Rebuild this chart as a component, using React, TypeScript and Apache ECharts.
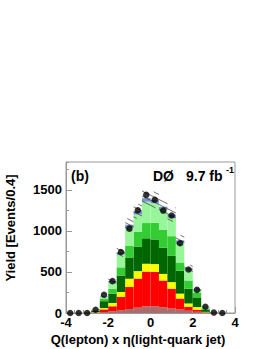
import React, { useEffect, useRef } from "react";
import * as echarts from "echarts";

const binCenters = [-3.8, -3.4, -3.0, -2.6, -2.2, -1.8, -1.4, -1.0, -0.6, -0.2, 0.2, 0.6, 1.0, 1.4, 1.8, 2.2, 2.6, 3.0, 3.4, 3.8];
const BIN_HALF = 0.2;

// per-component yields (stacked bottom to top)
const brownYield = [0, 0, 1, 4, 12, 22, 35, 50, 65, 80, 82, 68, 55, 42, 28, 15, 6, 2, 0, 0];
const redYield = [0, 0, 1, 4, 32, 60, 161, 266, 355, 425, 418, 328, 241, 134, 48, 23, 4, 1, 0, 0];
const yellowYield = [0, 0, 1, 4, 16, 40, 60, 100, 90, 95, 96, 80, 80, 60, 40, 34, 4, 1, 0, 0];
const darkGreenYield = [0, 0, 2, 13, 84, 114, 200, 260, 300, 310, 300, 320, 320, 280, 180, 118, 26, 2, 0, 0];
const greenYield = [0, 0, 2, 7, 32, 60, 100, 140, 180, 186, 204, 220, 240, 100, 100, 60, 15, 2, 0, 0];
const lightGreenYield = [0, 0, 2, 6, 16, 76, 156, 220, 210, 260, 236, 238, 226, 240, 130, 26, 18, 2, 0, 0];
const blueYield = [0, 0, 0, 2, 8, 18, 28, 39, 40, 44, 44, 41, 38, 29, 19, 12, 3, 0, 0, 0];

const dataYield: (number | null)[] = [0, 0, 0, 40, 222, 388, 744, 1028, 1252, 1440, 1380, 1248, 1188, 850, 530, 282, 76, 5, 0, null];
const relUncertainty = 0.07;

const layers = [
  { name: "brown", values: brownYield, color: "#a86c6c" },
  { name: "red", values: redYield, color: "#ff0000" },
  { name: "yellow", values: yellowYield, color: "#ffff00" },
  { name: "darkgreen", values: darkGreenYield, color: "#006600" },
  { name: "green", values: greenYield, color: "#33cc33" },
  { name: "lightgreen", values: lightGreenYield, color: "#99f599" },
  { name: "blue", values: blueYield, color: "#7893d4" },
];

const yTicks = [0, 500, 1000, 1500];
const xTicks = [-4, -2, 0, 2, 4];

const FONT = "'Liberation Sans', Arial, Helvetica, sans-serif";

export default function App() {
  const ref = useRef<HTMLDivElement>(null);
  useEffect(() => {
    if (!ref.current) return;
    const chart = echarts.init(ref.current, null, { renderer: "svg" });

    const cum = binCenters.map(() => 0);
    const series: any[] = [];
    layers.forEach((layer, li) => {
      const data = binCenters.map((c, i) => {
        const lo = cum[i];
        const hi = lo + layer.values[i];
        cum[i] = hi;
        return [c, lo, hi];
      });
      series.push({
        type: "custom",
        name: layer.name,
        z: 2 + li,
        encode: { x: 0, y: [1, 2] },
        data,
        renderItem: (params: any, api: any) => {
          const c = api.value(0);
          const lo = api.value(1);
          const hi = api.value(2);
          if (hi <= lo) return null;
          const p0 = api.coord([c - BIN_HALF, hi]);
          const p1 = api.coord([c + BIN_HALF, lo]);
          return {
            type: "rect",
            shape: { x: p0[0], y: p0[1], width: p1[0] - p0[0], height: p1[1] - p0[1] },
            style: { fill: layer.color, stroke: "none" },
          };
        },
      });
    });

    const totals = cum.slice();
    const bandData = binCenters.map((c, i) => [c, totals[i] * (1 - relUncertainty), totals[i] * (1 + relUncertainty)]);
    series.push({
      type: "custom",
      name: "uncertainty",
      z: 20,
      encode: { x: 0, y: [1, 2] },
      data: bandData,
      renderItem: (params: any, api: any) => {
        const c = api.value(0);
        const lo = api.value(1);
        const hi = api.value(2);
        if (hi - lo <= 0) return null;
        const p0 = api.coord([c - BIN_HALF, hi]);
        const p1 = api.coord([c + BIN_HALF, lo]);
        const x0 = p0[0], x1 = p1[0], yt = p0[1], yb = p1[1];
        const k = 0.5;
        const s = 5;
        const cMin = yt - k * x1;
        const cMax = yb - k * x0;
        const children: any[] = [];
        for (let n = Math.ceil(cMin / s); n * s <= cMax; n++) {
          const cc = n * s;
          const xa = Math.max(x0, (yt - cc) / k);
          const xb = Math.min(x1, (yb - cc) / k);
          if (xb - xa < 0.5) continue;
          children.push({
            type: "line",
            shape: { x1: xa, y1: k * xa + cc, x2: xb, y2: k * xb + cc },
            style: { stroke: "#333", lineWidth: 0.7 },
          });
        }
        return { type: "group", children };
      },
    });

    series.push({
      type: "scatter",
      name: "data",
      z: 30,
      symbolSize: 6.5,
      clip: false,
      itemStyle: { color: "#000" },
      data: binCenters.map((c, i) => (dataYield[i] === null ? null : [c, dataYield[i]])).filter((d) => d !== null),
    });

    const yMax = 1840;

    chart.setOption({
      animation: false,
      grid: {
        left: 66,
        right: 35,
        top: 162,
        bottom: 36,
        show: true,
        borderColor: "#999",
        borderWidth: 1,
        backgroundColor: "transparent",
      },
      xAxis: {
        type: "value",
        min: xTicks[0],
        max: xTicks[xTicks.length - 1],
        interval: 2,
        axisLine: { show: true, onZero: false, lineStyle: { color: "#999", width: 1 } },
        axisTick: { show: true, inside: true, length: 6, lineStyle: { color: "#999" } },
        minorTick: { show: true, splitNumber: 5, length: 3, lineStyle: { color: "#999" } },
        splitLine: { show: false },
        axisLabel: { color: "#000", fontFamily: FONT, fontWeight: "bold", fontSize: 13, margin: 3 },
      },
      yAxis: [
        {
          type: "value",
          min: yTicks[0],
          max: yMax,
          interval: 500,
          axisLine: { show: true, onZero: false, lineStyle: { color: "#999", width: 1 } },
          axisTick: { show: true, inside: true, length: 6, lineStyle: { color: "#999" } },
          splitLine: { show: false },
          axisLabel: {
            color: "#000",
            fontFamily: FONT,
            fontWeight: "bold",
            fontSize: 13,
            margin: 4,
            showMaxLabel: false,
            formatter: (v: number) => (yTicks.includes(v) ? String(v) : ""),
          },
        },
        {
          type: "value",
          min: yTicks[0],
          max: yMax,
          interval: 250,
          position: "left",
          axisLine: { show: false, onZero: false },
          axisTick: { show: true, inside: true, length: 3, lineStyle: { color: "#999" } },
          splitLine: { show: false },
          axisLabel: { show: false },
        },
      ],
      graphic: [
        {
          type: "text",
          left: 71,
          top: 169,
          style: { text: "(b)", fontFamily: FONT, fontWeight: "bold", fontSize: 14, fill: "#000" },
        },
        {
          type: "text",
          left: 153,
          top: 169,
          style: { text: "DØ", fontFamily: FONT, fontWeight: "bold", fontSize: 14, fill: "#000" },
        },
        {
          type: "text",
          left: 186,
          top: 169,
          style: { text: "9.7 fb", fontFamily: FONT, fontWeight: "bold", fontSize: 14, fill: "#000" },
        },
        {
          type: "text",
          left: 226,
          top: 165,
          style: { text: "-1", fontFamily: FONT, fontWeight: "bold", fontSize: 9, fill: "#000" },
        },
        {
          type: "text",
          x: 10,
          y: 228,
          rotation: Math.PI / 2,
          style: {
            text: "Yield [Events/0.4]",
            fontFamily: FONT,
            fontWeight: "bold",
            fontSize: 13,
            fill: "#000",
            align: "center",
            verticalAlign: "middle",
          },
        },
        {
          type: "text",
          x: 138,
          y: 339,
          style: {
            text: "Q(lepton) x η(light-quark jet)",
            fontFamily: FONT,
            fontWeight: "bold",
            fontSize: 13,
            fill: "#000",
            align: "center",
            verticalAlign: "middle",
          },
        },
      ],
      series,
    });

    return () => chart.dispose();
  }, []);

  return <div ref={ref} style={{ width: 270, height: 349, position: "absolute", left: 0, top: 0 }} />;
}
